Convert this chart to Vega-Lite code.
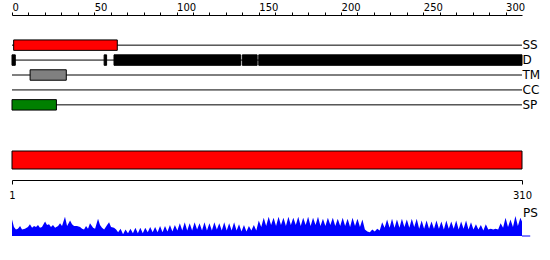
{
  "$schema": "https://vega.github.io/schema/vega-lite/v6.json",
  "padding": {"left": 8, "top": 2, "right": 0, "bottom": 0},
  "background": "white",
  "bounds": "flush",
  "spacing": 25,
  "config": {"view": {"stroke": null}, "font": "DejaVu Sans"},
  "datasets": {
    "tracks": [
      {"track": "SS"}, {"track": "D"}, {"track": "TM"}, {"track": "CC"}, {"track": "SP"}
    ],
    "features": [
      {"track": "SS", "start": 1, "end": 64},
      {"track": "D", "start": 0, "end": 2},
      {"track": "D", "start": 56, "end": 57.5},
      {"track": "D", "start": 62, "end": 139},
      {"track": "D", "start": 140, "end": 149},
      {"track": "D", "start": 150, "end": 310},
      {"track": "TM", "start": 11, "end": 33},
      {"track": "SP", "start": 0, "end": 27}
    ],
    "protein": [{"start": 1, "end": 310}],
    "ps": [
      {"pos": 0, "value": 18}, {"pos": 1.2, "value": 10}, {"pos": 2.4, "value": 7}, {"pos": 3.6, "value": 8},
      {"pos": 4.9, "value": 11}, {"pos": 6.1, "value": 7}, {"pos": 7.9, "value": 8}, {"pos": 9.7, "value": 10},
      {"pos": 10.9, "value": 13}, {"pos": 12.2, "value": 9}, {"pos": 13.4, "value": 11}, {"pos": 14.6, "value": 10},
      {"pos": 15.8, "value": 12}, {"pos": 17.0, "value": 9}, {"pos": 18.2, "value": 10}, {"pos": 20.1, "value": 16},
      {"pos": 21.3, "value": 12}, {"pos": 22.5, "value": 13}, {"pos": 23.7, "value": 10}, {"pos": 24.9, "value": 12},
      {"pos": 26.2, "value": 9}, {"pos": 28.0, "value": 11}, {"pos": 29.2, "value": 14}, {"pos": 30.4, "value": 11},
      {"pos": 32.2, "value": 21}, {"pos": 33.5, "value": 11}, {"pos": 35.3, "value": 17}, {"pos": 36.5, "value": 13},
      {"pos": 37.7, "value": 11}, {"pos": 39.5, "value": 11}, {"pos": 41.4, "value": 10}, {"pos": 42.6, "value": 8},
      {"pos": 43.8, "value": 7}, {"pos": 45.0, "value": 11}, {"pos": 46.2, "value": 8}, {"pos": 47.4, "value": 14},
      {"pos": 49.3, "value": 9}, {"pos": 50.5, "value": 8}, {"pos": 52.3, "value": 19}, {"pos": 53.5, "value": 12},
      {"pos": 54.7, "value": 9}, {"pos": 56.0, "value": 7}, {"pos": 57.8, "value": 12}, {"pos": 59.0, "value": 15},
      {"pos": 60.2, "value": 10}, {"pos": 62.0, "value": 9}, {"pos": 63.3, "value": 7}, {"pos": 64.5, "value": 4},
      {"pos": 66, "value": 8}, {"pos": 67.5, "value": 2}, {"pos": 69, "value": 7}, {"pos": 70.5, "value": 3},
      {"pos": 72, "value": 8}, {"pos": 73.5, "value": 3}, {"pos": 75, "value": 9}, {"pos": 76.5, "value": 3},
      {"pos": 78, "value": 9}, {"pos": 79.5, "value": 3}, {"pos": 81, "value": 9}, {"pos": 82.5, "value": 4},
      {"pos": 84, "value": 10}, {"pos": 85.5, "value": 4}, {"pos": 87, "value": 10}, {"pos": 88.5, "value": 4},
      {"pos": 90, "value": 11}, {"pos": 91.5, "value": 4}, {"pos": 93, "value": 11}, {"pos": 94.5, "value": 5},
      {"pos": 96, "value": 12}, {"pos": 97.5, "value": 5}, {"pos": 99, "value": 12}, {"pos": 100.5, "value": 6},
      {"pos": 102, "value": 14}, {"pos": 103.5, "value": 6}, {"pos": 105, "value": 15}, {"pos": 106.5, "value": 6},
      {"pos": 108, "value": 14}, {"pos": 109.5, "value": 6}, {"pos": 111, "value": 15}, {"pos": 112.5, "value": 7},
      {"pos": 114, "value": 14}, {"pos": 115.5, "value": 6}, {"pos": 117, "value": 15}, {"pos": 118.5, "value": 6},
      {"pos": 120, "value": 14}, {"pos": 121.5, "value": 6}, {"pos": 123, "value": 15}, {"pos": 124.5, "value": 7},
      {"pos": 126, "value": 14}, {"pos": 127.5, "value": 6}, {"pos": 129, "value": 15}, {"pos": 130.5, "value": 6},
      {"pos": 132, "value": 14}, {"pos": 133.5, "value": 6}, {"pos": 135, "value": 15}, {"pos": 136.5, "value": 6},
      {"pos": 138, "value": 13}, {"pos": 139.5, "value": 5}, {"pos": 141, "value": 12}, {"pos": 142.5, "value": 5},
      {"pos": 144, "value": 11}, {"pos": 145.5, "value": 6}, {"pos": 147, "value": 12}, {"pos": 148.5, "value": 6},
      {"pos": 150, "value": 17}, {"pos": 151.5, "value": 10}, {"pos": 153, "value": 20}, {"pos": 154.5, "value": 11},
      {"pos": 156, "value": 21}, {"pos": 157.5, "value": 12}, {"pos": 159, "value": 20}, {"pos": 160.5, "value": 11},
      {"pos": 162, "value": 21}, {"pos": 163.5, "value": 12}, {"pos": 165, "value": 20}, {"pos": 166.5, "value": 11},
      {"pos": 168, "value": 21}, {"pos": 169.5, "value": 12}, {"pos": 171, "value": 20}, {"pos": 172.5, "value": 12},
      {"pos": 174, "value": 21}, {"pos": 175.5, "value": 11}, {"pos": 177, "value": 20}, {"pos": 178.5, "value": 12},
      {"pos": 180, "value": 21}, {"pos": 181.5, "value": 11}, {"pos": 183, "value": 20}, {"pos": 184.5, "value": 12},
      {"pos": 186, "value": 21}, {"pos": 187.5, "value": 11}, {"pos": 189, "value": 19}, {"pos": 190.5, "value": 11},
      {"pos": 192, "value": 20}, {"pos": 193.5, "value": 12}, {"pos": 195, "value": 20}, {"pos": 196.5, "value": 11},
      {"pos": 198, "value": 19}, {"pos": 199.5, "value": 11}, {"pos": 201, "value": 20}, {"pos": 202.5, "value": 11},
      {"pos": 204, "value": 19}, {"pos": 205.5, "value": 10}, {"pos": 207, "value": 20}, {"pos": 208.5, "value": 11},
      {"pos": 210, "value": 19}, {"pos": 211.5, "value": 10}, {"pos": 213, "value": 18}, {"pos": 214.5, "value": 7},
      {"pos": 216, "value": 5}, {"pos": 217.5, "value": 4}, {"pos": 219, "value": 7}, {"pos": 220.5, "value": 5},
      {"pos": 222, "value": 8}, {"pos": 223.5, "value": 6}, {"pos": 225, "value": 15}, {"pos": 226.5, "value": 9},
      {"pos": 228, "value": 18}, {"pos": 229.5, "value": 9}, {"pos": 231, "value": 19}, {"pos": 232.5, "value": 9},
      {"pos": 234, "value": 18}, {"pos": 235.5, "value": 9}, {"pos": 237, "value": 19}, {"pos": 238.5, "value": 10},
      {"pos": 240, "value": 18}, {"pos": 241.5, "value": 9}, {"pos": 243, "value": 19}, {"pos": 244.5, "value": 10},
      {"pos": 246, "value": 19}, {"pos": 247.5, "value": 8}, {"pos": 249, "value": 17}, {"pos": 250.5, "value": 8},
      {"pos": 252, "value": 17}, {"pos": 253.5, "value": 8}, {"pos": 255, "value": 16}, {"pos": 256.5, "value": 8},
      {"pos": 258, "value": 17}, {"pos": 259.5, "value": 8}, {"pos": 261, "value": 16}, {"pos": 262.5, "value": 7},
      {"pos": 264, "value": 17}, {"pos": 265.5, "value": 8}, {"pos": 267, "value": 16}, {"pos": 268.5, "value": 8},
      {"pos": 270, "value": 17}, {"pos": 271.5, "value": 7}, {"pos": 273, "value": 16}, {"pos": 274.5, "value": 8},
      {"pos": 276, "value": 17}, {"pos": 277.5, "value": 7}, {"pos": 279, "value": 15}, {"pos": 280.5, "value": 7},
      {"pos": 282, "value": 13}, {"pos": 283.5, "value": 7}, {"pos": 285, "value": 12}, {"pos": 286.5, "value": 6},
      {"pos": 288, "value": 13}, {"pos": 289.5, "value": 7}, {"pos": 291, "value": 8}, {"pos": 292.5, "value": 7},
      {"pos": 294, "value": 8}, {"pos": 295.5, "value": 7}, {"pos": 297, "value": 14}, {"pos": 298.5, "value": 9},
      {"pos": 300, "value": 20}, {"pos": 301.5, "value": 10}, {"pos": 303, "value": 18}, {"pos": 304.5, "value": 10},
      {"pos": 306, "value": 22}, {"pos": 307.5, "value": 11}, {"pos": 309, "value": 20}, {"pos": 310, "value": 16}
    ]
  },
  "vconcat": [
    {
      "width": 510,
      "height": 100,
      "layer": [
        {
          "data": {"name": "tracks"},
          "mark": {"type": "rule", "color": "black", "strokeWidth": 1},
          "encoding": {
            "x": {
              "datum": 0, "type": "quantitative",
              "scale": {"domain": [0, 310], "nice": false, "zero": false},
              "axis": {
                "orient": "top", "title": null, "grid": false, "offset": 10,
                "values": [0, 10, 20, 30, 40, 50, 60, 70, 80, 90, 100, 110, 120, 130, 140, 150, 160, 170, 180, 190, 200, 210, 220, 230, 240, 250, 260, 270, 280, 290, 300],
                "labelExpr": "datum.value % 50 === 0 ? datum.label : ''",
                "format": "d",
                "tickSize": 3, "labelAlign": "left", "labelBaseline": "alphabetic",
                "labelPadding": 2, "labelFontSize": 10, "labelColor": "black",
                "tickColor": "black", "domainColor": "black",
                "labelFlush": false, "labelOverlap": false, "labelBound": false
              }
            },
            "x2": {"datum": 310},
            "y": {
              "field": "track", "type": "nominal", "bandPosition": 0.5,
              "scale": {"type": "band", "domain": ["SS", "D", "TM", "CC", "SP"], "paddingInner": 0.3, "paddingOuter": 1},
              "axis": {
                "orient": "right", "title": null, "ticks": false, "domain": false,
                "labelPadding": 0, "labelFontSize": 12, "labelColor": "black", "labelBaseline": "middle"
              }
            }
          }
        },
        {
          "data": {"name": "features"},
          "mark": {"type": "bar", "stroke": "black", "strokeWidth": 1},
          "encoding": {
            "x": {
              "field": "start", "type": "quantitative",
              "axis": {
                "orient": "top", "title": null, "grid": false, "offset": 10,
                "values": [0, 10, 20, 30, 40, 50, 60, 70, 80, 90, 100, 110, 120, 130, 140, 150, 160, 170, 180, 190, 200, 210, 220, 230, 240, 250, 260, 270, 280, 290, 300],
                "labelExpr": "datum.value % 50 === 0 ? datum.label : ''",
                "format": "d",
                "tickSize": 3, "labelAlign": "left", "labelBaseline": "alphabetic",
                "labelPadding": 2, "labelFontSize": 10, "labelColor": "black",
                "tickColor": "black", "domainColor": "black",
                "labelFlush": false, "labelOverlap": false, "labelBound": false
              }
            },
            "x2": {"field": "end"},
            "y": {"field": "track", "type": "nominal"},
            "color": {
              "field": "track", "type": "nominal", "legend": null,
              "scale": {"domain": ["SS", "D", "TM", "SP"], "range": ["#ff0000", "#000000", "#808080", "#008000"]}
            }
          }
        }
      ]
    },
    {
      "width": 510,
      "height": 20,
      "data": {"name": "protein"},
      "mark": {"type": "bar", "color": "#ff0000", "stroke": "black", "strokeWidth": 1},
      "encoding": {
        "x": {
          "field": "start", "type": "quantitative",
          "scale": {"domain": [1, 310], "nice": false, "zero": false},
          "axis": {
            "orient": "bottom", "values": [1, 310], "offset": 10, "tickSize": 4,
            "labelFontSize": 10, "labelBaseline": "alphabetic", "labelPadding": 14, "labelFlush": false, "labelOverlap": false,
            "domainColor": "black", "tickColor": "black", "labelColor": "black",
            "title": null, "grid": false
          }
        },
        "x2": {"field": "end"}
      }
    },
    {
      "width": 510,
      "height": 41,
      "layer": [
        {
          "data": {"name": "ps"},
          "mark": {"type": "area", "color": "#0000ff", "interpolate": "linear"},
          "encoding": {
            "x": {"field": "pos", "type": "quantitative", "scale": {"domain": [0, 310], "nice": false, "zero": false}, "axis": null},
            "y": {"field": "value", "type": "quantitative", "scale": {"domain": [0, 41]}, "axis": null}
          }
        },
        {
          "data": {"values": [{"from": 310, "to": 315, "level": 0}]},
          "mark": {"type": "rule", "color": "#0000ff", "strokeWidth": 1},
          "encoding": {
            "x": {"field": "from", "type": "quantitative"},
            "x2": {"field": "to"},
            "y": {"field": "level", "type": "quantitative"}
          }
        },
        {
          "data": {"values": [{"label": "PS", "pos": 310, "level": 25}]},
          "mark": {"type": "text", "align": "left", "baseline": "middle", "dx": 1, "fontSize": 12, "color": "black"},
          "encoding": {
            "x": {"field": "pos", "type": "quantitative"},
            "y": {"field": "level", "type": "quantitative"},
            "text": {"field": "label"}
          }
        }
      ]
    }
  ]
}
